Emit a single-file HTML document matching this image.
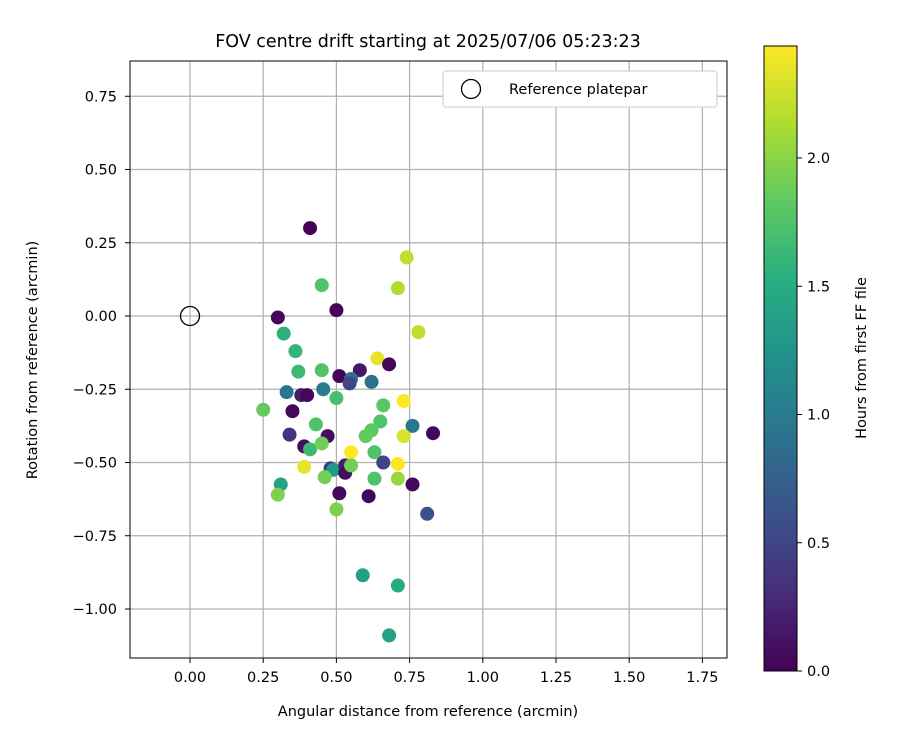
<!DOCTYPE html>
<html><head><meta charset="utf-8"><style>
body{margin:0;background:#fff;}
svg text{font-family:"DejaVu Sans","Liberation Sans",sans-serif;fill:#000;}
</style></head><body>
<svg id="chart" width="900" height="750" xmlns="http://www.w3.org/2000/svg">
<defs>
<linearGradient id="vir" x1="0" y1="1" x2="0" y2="0">
<stop offset="0" stop-color="#440154"/><stop offset="0.125" stop-color="#472d7b"/><stop offset="0.25" stop-color="#3b528b"/><stop offset="0.375" stop-color="#2c728e"/><stop offset="0.5" stop-color="#21918c"/><stop offset="0.625" stop-color="#28ae80"/><stop offset="0.75" stop-color="#5ec962"/><stop offset="0.875" stop-color="#addc30"/><stop offset="1" stop-color="#fde725"/>
</linearGradient>
<clipPath id="clip"><rect x="130" y="61" width="597" height="597"/></clipPath>
</defs>
<text x="428" y="47" font-size="17.5" text-anchor="middle">FOV centre drift starting at 2025/07/06 05:23:23</text>
<g id="grid"></g>
<g id="pts" clip-path="url(#clip)"></g>
<rect x="130" y="61" width="597" height="597" fill="none" stroke="#000" stroke-width="1"/>
<g id="ticks"></g>
<text x="428" y="716" font-size="14.5" text-anchor="middle">Angular distance from reference (arcmin)</text>
<text transform="translate(37,360) rotate(-90)" font-size="14.5" text-anchor="middle">Rotation from reference (arcmin)</text>
<g>
<rect x="443" y="71" width="274" height="36" rx="3" fill="#fff" stroke="#ccc"/>
<circle cx="471" cy="89" r="9.5" fill="none" stroke="#000" stroke-width="1.3"/>
<text x="509" y="94" font-size="14.5">Reference platepar</text>
</g>
<rect x="764" y="46" width="33" height="625" fill="url(#vir)" stroke="#000" stroke-width="1"/>
<g id="cbticks"></g>
<text transform="translate(866,358) rotate(-90)" font-size="14.5" text-anchor="middle">Hours from first FF file</text>
</svg>
<script>
const xVals=[0.41,0.45,0.74,0.71,0.50,0.30,0.32,0.78,0.36,0.37,0.45,0.64,0.68,0.58,0.51,0.55,0.545,0.62,0.33,0.38,0.40,0.455,0.50,0.25,0.35,0.66,0.73,0.76,0.83,0.34,0.47,0.43,0.65,0.62,0.60,0.73,0.39,0.41,0.45,0.63,0.55,0.39,0.48,0.49,0.53,0.53,0.55,0.66,0.71,0.46,0.63,0.71,0.31,0.30,0.51,0.61,0.76,0.50,0.81,0.59,0.71,0.68];
const yVals=[0.30,0.105,0.20,0.095,0.02,-0.005,-0.06,-0.055,-0.12,-0.19,-0.185,-0.145,-0.165,-0.185,-0.205,-0.215,-0.23,-0.225,-0.26,-0.27,-0.27,-0.25,-0.28,-0.32,-0.325,-0.305,-0.29,-0.375,-0.40,-0.405,-0.41,-0.37,-0.36,-0.39,-0.41,-0.41,-0.445,-0.455,-0.435,-0.465,-0.465,-0.515,-0.52,-0.525,-0.51,-0.535,-0.51,-0.50,-0.505,-0.55,-0.555,-0.555,-0.575,-0.61,-0.605,-0.615,-0.575,-0.66,-0.675,-0.885,-0.92,-1.09];
const hours=[0.02,1.75,2.2,2.15,0.02,0.05,1.55,2.2,1.6,1.65,1.75,2.35,0.05,0.15,0.02,0.9,0.5,0.9,0.95,0.2,0.05,1.0,1.7,1.85,0.05,1.8,2.45,0.95,0.05,0.35,0.1,1.75,1.75,1.8,1.85,2.3,0.1,1.65,1.9,1.75,2.45,2.35,0.4,1.3,0.2,0.1,1.9,0.5,2.45,1.9,1.75,2.05,1.4,1.95,0.05,0.05,0.05,1.95,0.6,1.35,1.5,1.4];
const xTicks=[0,0.25,0.5,0.75,1,1.25,1.5,1.75];
const yTicks=[0.75,0.5,0.25,0,-0.25,-0.5,-0.75,-1];
const cbTicks=[0,0.5,1,1.5,2];
const NS="http://www.w3.org/2000/svg";
const X=v=>190+v*292.8, Y=v=>316-v*293, C=v=>671-v*256.5;
const vir=[[68,1,84],[71,45,123],[59,82,139],[44,114,142],[33,145,140],[40,174,128],[94,201,98],[173,220,48],[253,231,37]];
function col(h){let t=Math.max(0,Math.min(1,h/2.437))*8;let i=Math.min(7,Math.floor(t)),f=t-i;const a=vir[i],b=vir[i+1];return `rgb(${a.map((c,k)=>Math.round(c+(b[k]-c)*f)).join(',')})`;}
function mk(tag,at,parent){const e=document.createElementNS(NS,tag);for(const k in at)e.setAttribute(k,at[k]);document.getElementById(parent).appendChild(e);return e;}
xTicks.forEach(v=>{
const l=mk('line',{x1:X(v),x2:X(v),y1:61,y2:658,stroke:'#b0b0b0','stroke-width':1.2},'grid');


mk('line',{x1:X(v),x2:X(v),y1:658,y2:663,stroke:'#000'},'ticks');
const t=mk('text',{x:X(v),y:682,'font-size':14.5,'text-anchor':'middle'},'ticks');t.textContent=v.toFixed(2);


});
yTicks.forEach(v=>{
const l=mk('line',{x1:130,x2:727,y1:Y(v),y2:Y(v),stroke:'#b0b0b0','stroke-width':1.2},'grid');


mk('line',{x1:125,x2:130,y1:Y(v),y2:Y(v),stroke:'#000'},'ticks');
const t=mk('text',{x:117,y:Y(v)+5,'font-size':14.5,'text-anchor':'end'},'ticks');t.textContent=v.toFixed(2).replace('-','\u2212');


});
cbTicks.forEach(v=>{
mk('line',{x1:797,x2:802,y1:C(v),y2:C(v),stroke:'#000'},'cbticks');
const t=mk('text',{x:807,y:C(v)+5,'font-size':14.5},'cbticks');t.textContent=v.toFixed(1);


});
const ref=mk('circle',{cx:X(0),cy:Y(0),r:9.5,fill:'none',stroke:'#000','stroke-width':1.3},'pts');


xVals.forEach((x,i)=>{
const c=mk('circle',{cx:X(x),cy:Y(yVals[i]),r:7,fill:col(hours[i])},'pts');


});
</script>
</body></html>
